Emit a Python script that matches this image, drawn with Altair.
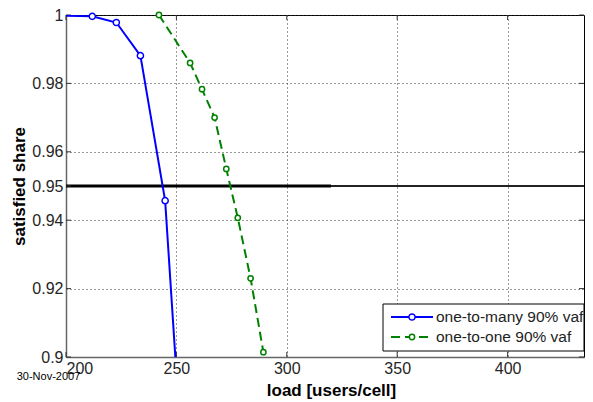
import altair as alt
import pandas as pd

# ---- data ----
blue_x = [180.0, 211.9, 222.8, 233.7, 244.9, 255.8]
blue_y = [1.0, 0.9996, 0.9978, 0.9881, 0.9457, 0.838]
green_x = [242.1, 256.2, 261.6, 267.3, 272.6, 277.8, 283.6, 289.4]
green_y = [1.0, 0.986, 0.9783, 0.970, 0.955, 0.9407, 0.923, 0.9014]
threshold = [0.95]
threshold_x = [200, 320]
x_ticks = [200, 250, 300, 350, 400]
y_ticks = [0.9, 0.92, 0.94, 0.95, 0.96, 0.98, 1.0]
series_names = ["one-to-many 90% vaf", "one-to-one 90% vaf"]
date_text = ["30-Nov-2007"]
x_title = "load [users/cell]"
y_title = "satisfied share"

W, H = 518, 342
FONT = "Liberation Sans"
BLUE = "#0000FF"
GREEN = "#008000"

xs = alt.Scale(domain=[200, 434.6], nice=False, zero=False)
ys = alt.Scale(domain=[0.9, 1.0], nice=False, zero=False)

blue = pd.DataFrame({"load": blue_x, "share": blue_y})
green = pd.DataFrame({"load": green_x, "share": green_y})
thr_df = pd.DataFrame({"share": threshold * 2, "load": threshold_x})
xt = pd.DataFrame({"v": x_ticks})
yt = pd.DataFrame({"v": y_ticks})

x_axis = alt.Axis(values=x_ticks, format="d", title=x_title, ticks=False,
                  labelPadding=3, titleX=265, titleY=38, titleBaseline="alphabetic",
                  grid=True)
y_axis = alt.Axis(values=y_ticks, format=".2~f", title=y_title, ticks=False,
                  labelPadding=3, titleX=-42, titleY=H / 2, titleAngle=-90,
                  titleBaseline="alphabetic", grid=True)

axes = alt.Chart(blue).mark_point(opacity=0).encode(
    x=alt.X("load:Q", scale=xs, axis=x_axis),
    y=alt.Y("share:Q", scale=ys, axis=y_axis),
).transform_filter("datum.load >= 200 && datum.share >= 0.9")

thr_full = alt.Chart(pd.DataFrame({"share": threshold})).mark_rule(
    color="#222", strokeWidth=2).encode(
    y=alt.Y("share:Q", scale=ys), x=alt.value(0), x2=alt.value(W))
thr_thick = alt.Chart(thr_df).mark_line(color="black", strokeWidth=3).encode(
    x=alt.X("load:Q", scale=xs), y=alt.Y("share:Q", scale=ys))

blue_line = alt.Chart(blue).mark_line(color=BLUE, strokeWidth=2, clip=True).encode(
    x=alt.X("load:Q", scale=xs), y=alt.Y("share:Q", scale=ys))
blue_pts = alt.Chart(blue).mark_point(shape="circle", size=38, color=BLUE,
                                      strokeWidth=1.5, opacity=1).encode(
    x=alt.X("load:Q", scale=xs), y=alt.Y("share:Q", scale=ys),
    fill=alt.value("white")).transform_filter("datum.load >= 200 && datum.share >= 0.9")

green_line = alt.Chart(green).mark_line(color=GREEN, strokeWidth=2, strokeDash=[9, 5],
                                        clip=True).encode(
    x=alt.X("load:Q", scale=xs), y=alt.Y("share:Q", scale=ys))
green_pts = alt.Chart(green).mark_point(shape="circle", size=28, color=GREEN,
                                        strokeWidth=1.5, opacity=1).encode(
    x=alt.X("load:Q", scale=xs), y=alt.Y("share:Q", scale=ys),
    fill=alt.value("white"))

# inward ticks
tick_c = "#333"
tl = alt.Chart(yt).mark_rule(color=tick_c).encode(
    y=alt.Y("v:Q", scale=ys), x=alt.value(0), x2=alt.value(5))
tr = alt.Chart(yt).mark_rule(color=tick_c).encode(
    y=alt.Y("v:Q", scale=ys), x=alt.value(W - 5), x2=alt.value(W))
tb = alt.Chart(xt).mark_rule(color=tick_c).encode(
    x=alt.X("v:Q", scale=xs), y=alt.value(H - 5), y2=alt.value(H))
tt = alt.Chart(xt).mark_rule(color=tick_c).encode(
    x=alt.X("v:Q", scale=xs), y=alt.value(0), y2=alt.value(5))

# date stamp
date = alt.Chart(pd.DataFrame({"t": date_text})).mark_text(
    font=FONT, fontSize=11, color="black", align="center", baseline="middle").encode(
    text="t:N", x=alt.value(-17.5), y=alt.value(362))

# legend (drawn manually, MATLAB style)
leg_df = pd.DataFrame({"name": series_names})
one = leg_df.head(1)
leg_box = alt.Chart(one).mark_rect(fill="white", stroke="black", strokeWidth=1).encode(
    x=alt.value(317), x2=alt.value(W), y=alt.value(289), y2=alt.value(336))
leg_l1 = alt.Chart(one).mark_rule(color=BLUE, strokeWidth=2).encode(
    x=alt.value(325), x2=alt.value(367), y=alt.value(302))
leg_p1 = alt.Chart(one).mark_point(shape="circle", size=38, color=BLUE,
                                   strokeWidth=1.5, opacity=1).encode(
    x=alt.value(346), y=alt.value(302), fill=alt.value("white"))
leg_l2 = alt.Chart(one).mark_rule(color=GREEN, strokeWidth=2, strokeDash=[9, 5]).encode(
    x=alt.value(325), x2=alt.value(367), y=alt.value(322))
leg_p2 = alt.Chart(one).mark_point(shape="circle", size=28, color=GREEN,
                                   strokeWidth=1.5, opacity=1).encode(
    x=alt.value(346), y=alt.value(322), fill=alt.value("white"))
leg_t1 = alt.Chart(leg_df.iloc[[0]]).mark_text(
    font=FONT, fontSize=15.5, align="left", baseline="middle", color="#222").encode(
    text="name:N", x=alt.value(370), y=alt.value(302))
leg_t2 = alt.Chart(leg_df.iloc[[1]]).mark_text(
    font=FONT, fontSize=15.5, align="left", baseline="middle", color="#222").encode(
    text="name:N", x=alt.value(370), y=alt.value(322))

chart = alt.layer(
    axes, thr_full, thr_thick, tl, tr, tb, tt,
    blue_line, blue_pts, green_line, green_pts,
    date, leg_box, leg_l1, leg_p1, leg_l2, leg_p2, leg_t1, leg_t2,
).properties(
    width=W, height=H,
    autosize=alt.AutoSizeParams(type="none"),
    padding={"left": 58, "top": 7, "right": 1, "bottom": 44},
    background="white",
).configure_view(
    stroke="black", strokeWidth=1,
).configure_axis(
    labelFont=FONT, labelFontSize=16, labelColor="#262626",
    titleFont=FONT, titleFontSize=17, titleFontWeight="bold", titleColor="black",
    domainColor="#666", domainWidth=1.5,
    gridColor="#333", gridDash=[1, 3], gridOpacity=1, gridWidth=1,
)

chart.save("out.html", embed_options={"renderer": "svg", "actions": False})
